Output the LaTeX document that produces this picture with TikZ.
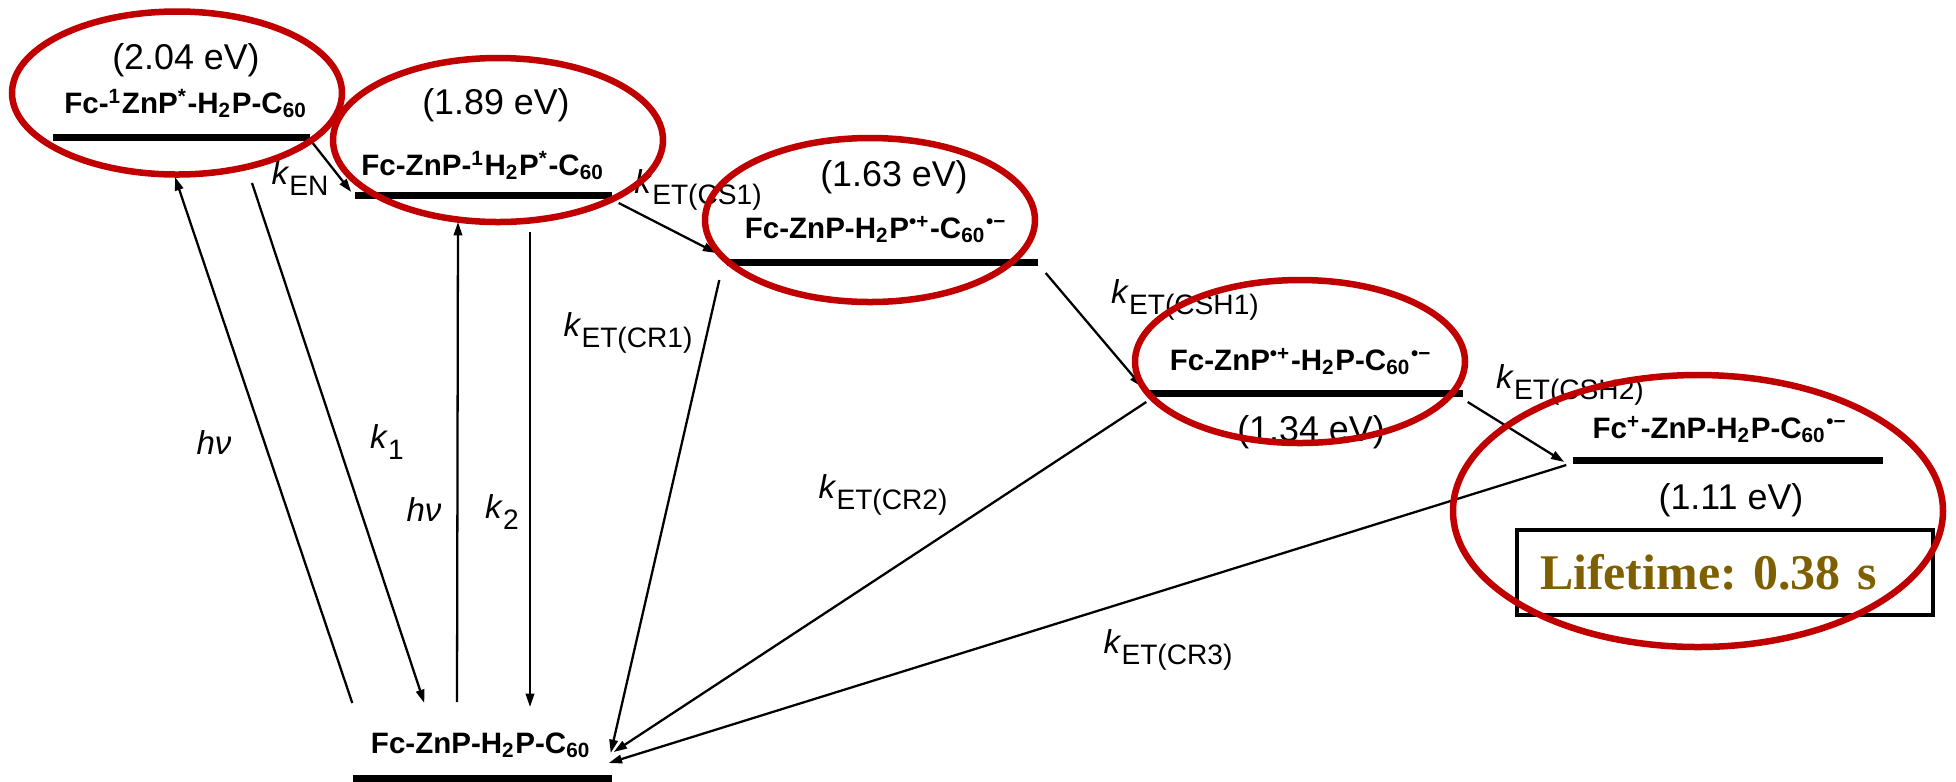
\documentclass[tikz,border=0pt]{standalone}
\usepackage{fontspec}
\setmainfont{Liberation Sans}
\newfontfamily\lifefont{Liberation Serif}
\usepackage{tikz}
\usetikzlibrary{calc,positioning}
\usetikzlibrary{arrows.meta}
\definecolor{ringred}{RGB}{192,0,0}
\definecolor{lifebrown}{RGB}{127,96,0}
\newcommand{\krate}[1]{\textit{k}\raisebox{-3pt}{\fontsize{8}{9}\selectfont #1}}
\tikzset{
    level line/.style={
        fill=black,inner sep=0pt,
        minimum height=0.07cm
    },
    state label/.style={
        inner sep=0pt,anchor=base,
        font=\fontsize{8.4}{10}\selectfont\bfseries
    },
    energy/.style={inner sep=0pt,font=\fontsize{10.2}{12}\selectfont},
    rate/.style={inner sep=0pt,font=\fontsize{9.4}{11}\selectfont},
    transition/.style={->,line width=0.65pt},
    ring/.style={draw=ringred,line width=1.85pt},
    life box/.style={
        draw,line width=1.4pt,
        minimum width=4.16cm,minimum height=0.85cm,
        text width=3.70cm,inner xsep=0.23cm,align=left,
        font=\lifefont\bfseries\fontsize{14.2}{16}\selectfont,
        text=lifebrown
    },
    >={Triangle[length=3.8pt,width=2.4pt]}
}

\begin{document}
\begin{tikzpicture}
\useasboundingbox (0,0) rectangle (19.56,-7.81);
% energy levels
\foreach \i/\x/\y/\w in {1/1.815/-1.37/2.57,2/4.835/-1.95/2.57,3/8.825/-2.62/3.11,4/13.05/-3.93/3.16,5/17.28/-4.60/3.10}
    \node[level line,minimum width=\w cm] (lv\i) at (\x,\y) {};
\node[level line,minimum width=2.59cm] (gnd) at (4.825,-7.78) {};
% states
\node[state label] (st1) at (1.86,-1.13) {Fc-\textsuperscript{1}ZnP\textsuperscript{*}-H\textsubscript{2}P-C\textsubscript{60}};
\node[state label] (st2) at (4.83,-1.75) {Fc-ZnP-\textsuperscript{1}H\textsubscript{2}P\textsuperscript{*}-C\textsubscript{60}};
\node[state label] (st3) at (8.76,-2.38) {Fc-ZnP-H\textsubscript{2}P\textsuperscript{•+}-C\textsubscript{60}\textsuperscript{•−}};
\node[state label] (st4) at (13.01,-3.70) {Fc-ZnP\textsuperscript{•+}-H\textsubscript{2}P-C\textsubscript{60}\textsuperscript{•−}};
\node[state label] (st5) at (17.20,-4.38) {Fc\textsuperscript{+}-ZnP-H\textsubscript{2}P-C\textsubscript{60}\textsuperscript{•−}};
\node[state label] (st0) at (4.81,-7.53) {Fc-ZnP-H\textsubscript{2}P-C\textsubscript{60}};
\node[energy] (en1) at (1.86,-0.60) {(2.04 eV)};
\node[energy] (en2) at (4.96,-1.05) {(1.89 eV)};
\node[energy] (en3) at (8.94,-1.77) {(1.63 eV)};
\node[energy] (en4) at (13.11,-4.32) {(1.34 eV)};
\node[energy] (en5) at (17.31,-5.00) {(1.11 eV)};
\node[life box] (life) at (17.25,-5.725) {Lifetime:\ 0.38 s};
% transitions
\draw[transition] ($(gnd.west)+(0,0.75)$) -- ($(lv1)+(-0.065,-0.40)$);
\draw[transition] ($(lv1)+(0.705,-0.46)$) -- ($(gnd.west)+(0.72,0.75)$);
\draw[transition] ($(gnd)+(-0.255,0.76)$) -- ($(lv2)+(-0.255,-0.27)$);
\draw[transition] ($(lv2)+(0.465,-0.37)$) -- ($(gnd)+(0.475,0.71)$);
\draw[transition] ($(lv1.east)+(0.02,-0.06)$) -- ($(lv2.west)+(-0.03,0.03)$);
\draw[transition] ($(lv2.east)+(0.06,-0.08)$) -- ($(lv3.west)+(-0.10,0.09)$);
\draw[transition] ($(lv3.east)+(0.07,-0.11)$) -- ($(lv4.west)+(-0.04,0.06)$);
\draw[transition] ($(lv4.east)+(0.04,-0.09)$) -- ($(lv5.west)+(-0.08,-0.02)$);
\draw[transition] ($(lv3.west)+(-0.07,-0.18)$) -- ($(gnd.east)+(-0.02,0.25)$);
\draw[transition] ($(lv4.west)+(0,-0.09)$) -- ($(gnd.east)+(0.01,0.26)$);
\draw[transition] ($(lv5.west)+(-0.06,-0.05)$) -- ($(gnd.east)+(-0.04,0.15)$);
% rate labels
\node[rate] (hv1) at (2.14,-4.43) {\textit{hν}};
\node[rate] (k1) at (3.87,-4.42) {\krate{1}};
\node[rate] (hv2) at (4.24,-5.10) {\textit{hν}};
\node[rate] (k2) at (5.02,-5.12) {\krate{2}};
\node[rate] (ken) at (3.00,-1.78) {\krate{EN}};
\node[rate] (kcs1) at (6.98,-1.90) {\krate{ET(CS1)}};
\node[rate] (kcsh1) at (11.85,-3.00) {\krate{ET(CSH1)}};
\node[rate] (kcsh2) at (15.70,-3.85) {\krate{ET(CSH2)}};
\node[rate] (kcr1) at (6.28,-3.33) {\krate{ET(CR1)}};
\node[rate] (kcr2) at (8.83,-4.95) {\krate{ET(CR2)}};
\node[rate] (kcr3) at (11.68,-6.50) {\krate{ET(CR3)}};
% highlight rings
\foreach \cx/\cy/\rx/\ry in {1.77/-0.93/1.65/0.815,4.98/-1.40/1.65/0.82,8.70/-2.20/1.65/0.82,13.00/-3.615/1.65/0.815,16.98/-5.11/2.45/1.36}
    \draw[ring] (\cx,\cy) ellipse [x radius=\rx,y radius=\ry];
\end{tikzpicture}
\end{document}
